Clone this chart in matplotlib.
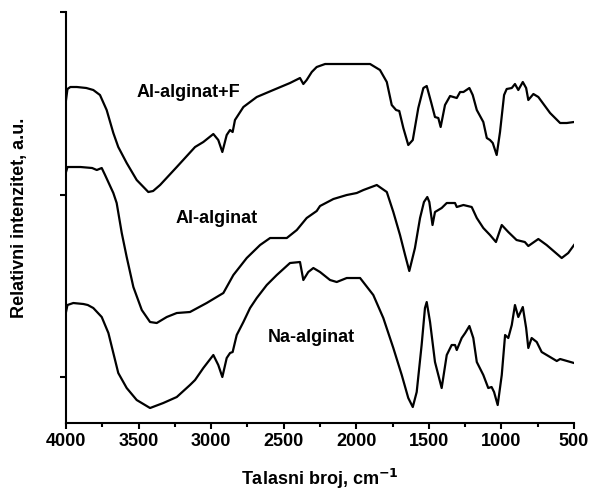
import matplotlib.pyplot as plt
import numpy as np

plt.rcParams['font.family'] = ['Liberation Sans', 'DejaVu Sans']
plt.rcParams['font.weight'] = 'bold'

# Al-alginat+F
w_alf = [4000, 3990, 3970, 3925, 3860, 3812, 3766, 3720, 3674, 3640, 3582, 3513, 3433, 3400,
         3352, 3237, 3111, 3054, 2985, 2951, 2923, 2893, 2870, 2852, 2836, 2778, 2686, 2572,
         2457, 2388, 2365, 2342, 2307, 2273, 2215, 2100, 1905, 1837, 1790, 1756, 1726, 1704,
         1676, 1642, 1611, 1573, 1538, 1515, 1485, 1458, 1435, 1419, 1389, 1354, 1308, 1285,
         1262, 1221, 1198, 1170, 1125, 1101, 1079, 1060, 1033, 1010, 982, 964, 929, 907, 884,
         853, 830, 815, 780, 746, 665, 596, 550, 500]
i_alf = [323, 334, 336, 336, 335, 333, 328, 313, 290, 276, 260, 243, 231, 232,
         238, 256, 276, 281, 289, 283, 271, 288, 293, 291, 303, 316, 326, 333,
         340, 345, 339, 343, 351, 356, 359, 359, 359, 353, 341, 318, 313, 312,
         295, 278, 283, 315, 335, 337, 321, 306, 305, 296, 318, 327, 325, 331,
         331, 335, 328, 313, 301, 285, 283, 280, 268, 291, 328, 334, 335, 339, 333,
         341, 335, 323, 329, 326, 310, 300, 300, 301]

# Al-alginat
w_al = [4000, 3990, 3900, 3820, 3788, 3754, 3731, 3674, 3651, 3616, 3582, 3536, 3478, 3421,
        3375, 3306, 3237, 3146, 3031, 2939, 2916, 2847, 2755, 2663, 2594, 2479, 2410, 2342,
        2273, 2250, 2158, 2066, 1997, 1951, 1859, 1790, 1745, 1699, 1664, 1635, 1596, 1561,
        1534, 1511, 1497, 1475, 1458, 1412, 1377, 1320, 1308, 1262, 1205, 1170, 1125, 1079,
        1038, 998, 953, 896, 839, 815, 746, 689, 585, 540, 500]
i_al = [251, 256, 256, 255, 253, 255, 248, 230, 220, 190, 166, 136, 113, 101,
        100, 106, 110, 111, 120, 128, 130, 148, 165, 178, 185, 185, 193, 205,
        212, 217, 224, 228, 230, 233, 238, 231, 211, 188, 168, 152, 175, 205,
        221, 226, 221, 198, 211, 215, 220, 220, 216, 218, 216, 205, 195, 188,
        181, 198, 191, 183, 181, 177, 184, 178, 165, 170, 178]

# Na-alginat
w_na = [4000, 3990, 3950, 3880, 3850, 3812, 3754, 3708, 3674, 3640, 3582, 3513, 3421, 3330,
        3237, 3146, 3111, 3054, 2985, 2951, 2923, 2893, 2870, 2852, 2824, 2778, 2732, 2686,
        2617, 2548, 2457, 2388, 2365, 2331, 2296, 2250, 2181, 2135, 2066, 1974, 1883, 1814,
        1745, 1687, 1642, 1611, 1584, 1550, 1527, 1515, 1492, 1458, 1435, 1412, 1377, 1343,
        1320, 1308, 1274, 1250, 1221, 1194, 1170, 1125, 1091, 1068, 1051, 1026, 998, 975,
        953, 929, 907, 884, 853, 830, 815, 792, 757, 723, 665, 619, 596, 500]
i_na = [111, 118, 120, 119, 118, 115, 106, 90, 70, 50, 35, 23, 15, 20,
        26, 38, 43, 55, 68, 58, 46, 65, 70, 71, 88, 101, 115, 125,
        138, 148, 160, 161, 143, 151, 155, 151, 143, 141, 145, 145, 128, 105,
        75, 48, 25, 16, 31, 78, 115, 121, 101, 61, 48, 35, 68, 78,
        78, 73, 85, 90, 97, 85, 61, 48, 35, 36, 31, 18, 48, 88,
        85, 98, 118, 106, 116, 95, 75, 85, 81, 71, 66, 62, 64, 60]

fig = plt.figure(figsize=(5.91, 4.9), dpi=100)
ax = fig.add_axes([0.1117, 0.1367, 0.8596, 0.8388])

for w, i in [(w_alf, i_alf), (w_al, i_al), (w_na, i_na)]:
    ax.plot(w, i, color='black', linewidth=1.6)

ax.text(3160, 331, 'Al-alginat+F', fontsize=13, fontweight='bold', ha='center', va='center')
ax.text(2963, 205, 'Al-alginat', fontsize=13, fontweight='bold', ha='center', va='center')
ax.text(2312, 86, 'Na-alginat', fontsize=13, fontweight='bold', ha='center', va='center')

ax.set_xlim(4000, 500)
ax.set_ylim(0, 411)
ax.set_xticks([4000, 3500, 3000, 2500, 2000, 1500, 1000, 500])
ax.set_xticks(np.arange(500, 4001, 250), minor=True)
ax.set_yticks([46, 228, 411])
ax.set_yticklabels([])
ax.tick_params(axis='both', which='major', direction='out', length=4, width=1.5, labelsize=13)
ax.tick_params(axis='x', which='minor', direction='out', length=3, width=1.5)
for lbl in ax.get_xticklabels():
    lbl.set_fontweight('bold')

ax.spines['top'].set_visible(False)
ax.spines['right'].set_visible(False)
ax.spines['left'].set_linewidth(1.5)
ax.spines['bottom'].set_linewidth(1.5)

ax.set_xlabel('Talasni broj, cm$^{\\mathbf{-1}}$', fontsize=13, fontweight='bold', labelpad=12)
ax.set_ylabel('Relativni intenzitet, a.u.', fontsize=13, fontweight='bold')
ax.yaxis.set_label_coords(-0.075, 0.5)

fig.savefig('out.png', dpi=100)
